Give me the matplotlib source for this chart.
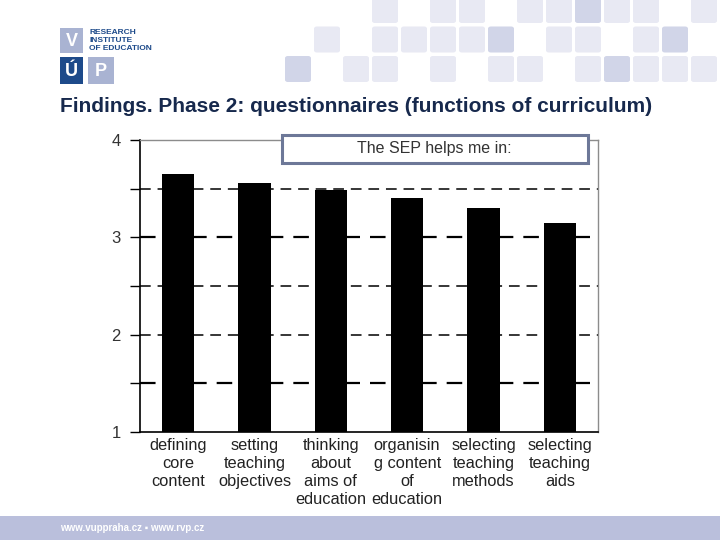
import matplotlib
matplotlib.use("Agg")
import matplotlib.pyplot as plt
from matplotlib.patches import Rectangle, FancyBboxPatch
from matplotlib.ticker import MultipleLocator

plt.rcParams['font.family'] = ['Liberation Sans', 'DejaVu Sans']

categories = ["defining\ncore\ncontent", "setting\nteaching\nobjectives",
              "thinking\nabout\naims of\neducation", "organisin\ng content\nof\neducation",
              "selecting\nteaching\nmethods", "selecting\nteaching\naids"]
values = [3.65, 3.56, 3.49, 3.40, 3.30, 3.15]
title = "Findings. Phase 2: questionnaires (functions of curriculum)"
box_text = "The SEP helps me in:"

W, H = 720, 540
fig = plt.figure(figsize=(7.2, 5.4), dpi=100)
fig.patch.set_facecolor("white")

def px_rect(x, y, w, h, **kw):
    return Rectangle((x / W, 1 - (y + h) / H), w / W, h / H, transform=fig.transFigure, **kw)

def px_round(x, y, w, h, color):
    return FancyBboxPatch((x / W, 1 - (y + h) / H), w / W, h / H,
                          boxstyle="round,pad=0,rounding_size=0.004",
                          transform=fig.transFigure, facecolor=color, edgecolor="none")

# decorative squares
light, dark = "#e8e9f3", "#d1d5e8"
rows = {
    0: [(3, 0), (5, 0), (6, 0), (8, 0), (9, 0), (10, 1), (11, 0), (12, 0), (14, 0)],
    1: [(1, 0), (3, 0), (4, 0), (5, 0), (6, 0), (7, 1), (9, 0), (10, 0), (12, 0), (13, 1)],
    2: [(0, 1), (2, 0), (3, 0), (5, 0), (7, 0), (8, 0), (10, 0), (11, 1), (12, 0), (13, 0), (14, 0)],
}
for r, cols in rows.items():
    for k, d in cols:
        fig.patches.append(px_round(285 + 29 * k, -3 + 29.5 * r, 26, 26, dark if d else light))

# logo
fig.patches.append(px_rect(60, 28, 23, 25, facecolor="#a9b3d2", edgecolor="none"))
fig.patches.append(px_rect(60, 57, 23, 27, facecolor="#1d4a8a", edgecolor="none"))
fig.patches.append(px_rect(88, 57, 26, 27, facecolor="#a9b3d2", edgecolor="none"))
fig.text(71.5 / W, 1 - 41 / H, "V", color="white", fontsize=13, fontweight="bold", ha="center", va="center")
fig.text(71.5 / W, 1 - 71 / H, "Ú", color="white", fontsize=13, fontweight="bold", ha="center", va="center")
fig.text(101 / W, 1 - 71 / H, "P", color="white", fontsize=13, fontweight="bold", ha="center", va="center")
for i, t in enumerate(["RESEARCH", "INSTITUTE", "OF EDUCATION"]):
    fig.text(89 / W, 1 - (33 + 7.5 * i) / H, t, color="#1d4a8a", fontsize=6, fontweight="bold",
             ha="left", va="center", family=["Liberation Sans Narrow", "Liberation Sans", "DejaVu Sans"])

# bottom band
fig.patches.append(px_rect(0, 516, 720, 24, facecolor="#babfdc", edgecolor="none"))
fig.text(60 / W, 1 - 528 / H, "www.vuppraha.cz ▪ www.rvp.cz", color="white", fontsize=7,
         fontweight="bold", ha="left", va="center",
         family=["Liberation Sans Narrow", "Liberation Sans", "DejaVu Sans"])

# title
fig.text(60 / W, 1 - 107 / H, title, color="#17294d", fontsize=15, fontweight="bold",
         ha="left", va="center")

# axes
ax = fig.add_axes([140 / W, 1 - 432 / H, 458 / W, 292 / H])
x = list(range(len(values)))
ax.bar(x, values, width=0.42, bottom=0, color="black", zorder=3)
ax.set_ylim(1, 4)
ax.set_xlim(-0.5, len(values) - 0.5)
ax.yaxis.set_major_locator(MultipleLocator(1))
ax.yaxis.set_minor_locator(MultipleLocator(0.5))
for yv in [1.5, 2, 2.5, 3, 3.5]:
    lw = 1.6 if yv in (1.5, 3) else 1.1
    ax.axhline(yv, color="black", lw=lw, ls=(0, (7, 4.5)), zorder=1)
ax.set_xticks(x)
ax.set_xticklabels(categories, fontsize=11.8, color="#222222", linespacing=1.27)
ax.tick_params(axis="x", length=0, pad=4)
ax.tick_params(axis="y", which="both", direction="out", length=7, width=1, color="black",
               labelsize=12, labelcolor="#333333", pad=7)
ax.tick_params(axis="y", which="minor", labelleft=False)
for s in ["top", "right"]:
    ax.spines[s].set_color("#8c8c8c")
    ax.spines[s].set_linewidth(1)
for s in ["left", "bottom"]:
    ax.spines[s].set_color("black")
    ax.spines[s].set_linewidth(1.2)

# box label
fig.patches.append(px_rect(282, 135, 306, 28, facecolor="white", edgecolor="#6d7898", linewidth=2.2, zorder=5))
fig.text(434 / W, 1 - 149 / H, box_text, fontsize=11.5, color="#333333", ha="center", va="center", zorder=6)

fig.savefig("out.png", dpi=100)
